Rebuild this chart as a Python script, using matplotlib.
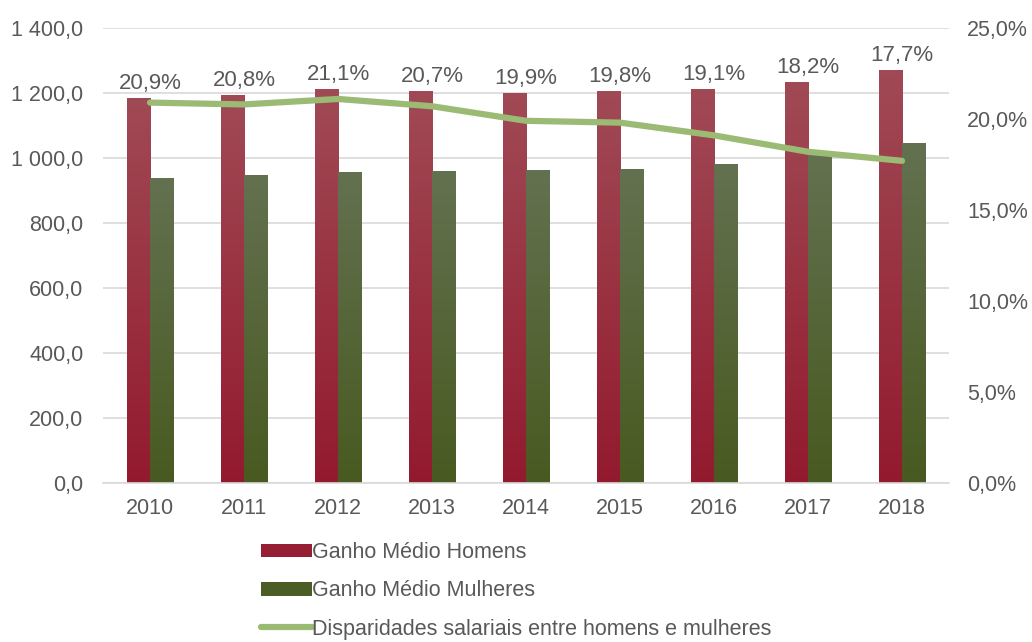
import numpy as np
import matplotlib
matplotlib.use('Agg')
from matplotlib import pyplot as plt
from matplotlib.colors import LinearSegmentedColormap
from matplotlib.patches import Patch
from matplotlib.lines import Line2D

years = ['2010', '2011', '2012', '2013', '2014', '2015', '2016', '2017', '2018']
ganho_homens = [1185, 1194, 1212, 1206, 1200, 1206, 1212, 1234, 1271]
ganho_mulheres = [938, 948, 957, 960, 963, 966, 982, 1009, 1046]
disparidade = [20.9, 20.8, 21.1, 20.7, 19.9, 19.8, 19.1, 18.2, 17.7]
left_ticks = ['0,0', '200,0', '400,0', '600,0', '800,0', '1 000,0', '1 200,0', '1 400,0']
right_ticks = ['0,0%', '5,0%', '10,0%', '15,0%', '20,0%', '25,0%']

txt = '#595959'
plt.rcParams['font.family'] = ['Liberation Sans', 'DejaVu Sans']

fig = plt.figure(figsize=(10.32, 6.42), dpi=100)
ax = fig.add_axes([0.0998, 0.2477, 0.8198, 0.7087])
x = np.arange(len(years))
w = 0.245

red_cm = LinearSegmentedColormap.from_list('r', ['#a04a55', '#931a2e'])
green_cm = LinearSegmentedColormap.from_list('g', ['#637150', '#485a20'])
grad = np.linspace(0, 1, 256).reshape(-1, 1)

def grad_bars(xpos, vals, cmap, z):
    bars = ax.bar(xpos, vals, w, color='none', edgecolor='none', zorder=z)
    for b in bars:
        x0, y0 = b.get_x(), b.get_y()
        im = ax.imshow(grad, extent=[x0, x0 + b.get_width(), y0, y0 + b.get_height()],
                       origin='upper', aspect='auto', cmap=cmap, zorder=z)
        im.set_clip_path(b)
    return bars

grad_bars(x - w / 2, ganho_homens, red_cm, 2)
grad_bars(x + w / 2, ganho_mulheres, green_cm, 2)

ax.set_xlim(-0.5, len(years) - 0.5)
ax.set_ylim(0, 1400)
ax.set_yticks(np.arange(0, 1401, 200))
ax.set_yticklabels(left_ticks)
ax.set_xticks(x)
ax.set_xticklabels(years)
ax.yaxis.grid(True, color='#d9d9d9', linewidth=1.2)
ax.set_axisbelow(True)
for s in ax.spines.values():
    s.set_visible(False)
ax.spines['bottom'].set_visible(True)
ax.spines['bottom'].set_color('#d9d9d9')
ax.spines['bottom'].set_linewidth(1.2)
ax.tick_params(length=0, labelsize=15.5, colors=txt)
ax.tick_params(axis='y', pad=14)
ax.tick_params(axis='x', pad=11)

# percentage labels sit just above the men's bars
for xi, hv, v in zip(x, ganho_homens, disparidade):
    ax.annotate(('%.1f%%' % v).replace('.', ','), (xi, hv), xytext=(0, 3),
                textcoords='offset points', ha='center', va='bottom',
                fontsize=16, color=txt, zorder=6)

ax2 = ax.twinx()
ax2.plot(x, disparidade, color='#9bbb74', linewidth=4.5, solid_capstyle='round',
         solid_joinstyle='round', zorder=5)
ax2.set_ylim(0, 25)
ax2.set_yticks(np.arange(0, 26, 5))
ax2.set_yticklabels(right_ticks)
for s in ax2.spines.values():
    s.set_visible(False)
ax2.tick_params(length=0, labelsize=15.5, colors=txt, pad=13)

handles = [Patch(facecolor='#961f33'), Patch(facecolor='#4b5c25'),
           Line2D([0], [0], color='#9bbb74', linewidth=4.5, solid_capstyle='round')]
labels = ['Ganho Médio Homens', 'Ganho Médio Mulheres',
          'Disparidades salariais entre homens e mulheres']
fig.legend(handles, labels, loc='upper left', bbox_to_anchor=(0.245, 0.169),
           frameon=False, fontsize=15.5, labelcolor=txt, handlelength=2.35,
           handleheight=0.6, handletextpad=0.0, labelspacing=0.8, borderaxespad=0)

fig.savefig('out.png', dpi=100)
